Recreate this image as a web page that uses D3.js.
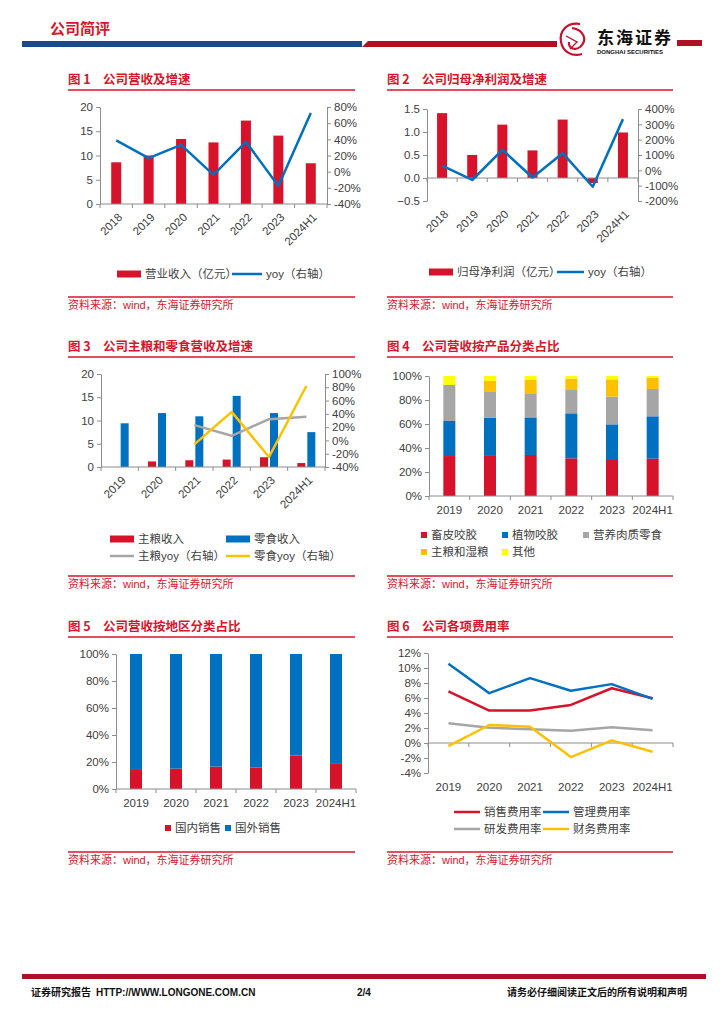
<!DOCTYPE html>
<html>
<head>
<meta charset="utf-8">
<script src="https://cdn.jsdelivr.net/npm/d3@7"></script>
<style>
  body { margin: 0; background: #fff; }
  svg { display: block; }
</style>
</head>
<body>
<svg id="page" width="724" height="1024"></svg>
<script>
// ---- data ----
const years7 = ['2018', '2019', '2020', '2021', '2022', '2023', '2024H1'];
const years6 = ['2019', '2020', '2021', '2022', '2023', '2024H1'];

const revenue = [8.6, 10.0, 13.4, 12.7, 17.2, 14.1, 8.4];        // 亿元
const revenueYoy = [38.6, 16.7, 33.2, -4.0, 37.0, -17.6, 72.6];  // %

const profit = [1.41, 0.50, 1.16, 0.60, 1.27, -0.11, 0.99];      // 亿元
const profitYoy = [31, -63, 134, -47, 112, -107, 334];           // %

const stapleRev = [0, 1.2, 1.45, 1.6, 2.1, 0.85];
const snackRev = [9.4, 11.6, 10.9, 15.3, 11.6, 7.5];
const stapleYoy = [null, null, 23, 7, 32, 35.5];
const snackYoy = [null, null, -6, 43, -25, 82];

const productNames = ['畜皮咬胶', '植物咬胶', '营养肉质零食', '主粮和湿粮', '其他'];
const hideChews = [33.3, 33.4, 34.2, 31.4, 30.0, 31.1];
const plantChews = [29.2, 31.9, 31.3, 37.5, 29.7, 35.3];
const meatSnacks = [30.0, 21.4, 19.5, 19.4, 23.1, 22.8];
const stapleWet = [0, 9.1, 12.0, 9.5, 14.4, 9.4];
const others = [7.5, 4.2, 3.0, 2.2, 2.8, 1.4];

const regionNames = ['国内销售', '国外销售'];
const domestic = [14.1, 15.1, 16.6, 15.8, 24.8, 18.6];
const overseas = [85.9, 84.9, 83.4, 84.2, 75.2, 81.4];

const expenseNames = ['销售费用率', '管理费用率', '研发费用率', '财务费用率'];
const salesRate = [6.87, 4.32, 4.32, 5.08, 7.3, 5.97];
const adminRate = [10.57, 6.64, 8.65, 6.96, 7.85, 5.88];
const rdRate = [2.62, 2.04, 1.82, 1.64, 2.09, 1.69];
const finRate = [-0.41, 2.4, 2.18, -1.88, 0.35, -1.17];

// ---- style ----
const RED = '#D7132B';
const RED_T = '#D9142B';
const BLUE = '#0070C0';
const GREY = '#A6A6A6';
const ORANGE = '#FFC000';
const YELLOW = '#FFFF00';
const CJK = '"Noto Sans CJK SC", sans-serif';
const NUM = '"Liberation Sans", "Noto Sans CJK SC", sans-serif';

const svg = d3.select('#page');

function styleAxis(g) {
    g.selectAll('path, line').attr('stroke', '#8c8c8c');
    g.selectAll('text').attr('fill', '#404040').attr('font-size', 11.5).attr('font-family', NUM);
}

function chartTitle(x0, x1, y, num, text) {
    svg.append('text').attr('x', x0).attr('y', y).attr('fill', RED_T)
        .attr('font-weight', 'bold').attr('font-size', 12.5).attr('font-family', CJK)
        .text('图 ' + num);
    svg.append('text').attr('x', x0 + 35).attr('y', y).attr('fill', RED_T)
        .attr('font-weight', 'bold').attr('font-size', 12.5).attr('font-family', CJK)
        .text(text);
    svg.append('line').attr('x1', x0).attr('x2', x1).attr('y1', y + 6).attr('y2', y + 6)
        .attr('stroke', RED_T).attr('stroke-width', 1.5);
}

function sourceNote(x0, x1, y) {
    svg.append('line').attr('x1', x0).attr('x2', x1).attr('y1', y).attr('y2', y)
        .attr('stroke', RED_T).attr('stroke-width', 1.5);
    svg.append('text').attr('x', x0).attr('y', y + 12).attr('fill', RED_T)
        .attr('font-size', 11).attr('font-family', NUM)
        .text('资料来源：wind，东海证券研究所');
}

// legend item: kind = 'rect' | 'line' | 'square'
function legendItem(x, y, kind, color, label, w) {
    if (kind === 'rect') {
        svg.append('rect').attr('x', x).attr('y', y - 3.5).attr('width', w).attr('height', 7).attr('fill', color);
    } else if (kind === 'line') {
        svg.append('line').attr('x1', x).attr('x2', x + w).attr('y1', y).attr('y2', y)
            .attr('stroke', color).attr('stroke-width', 2.5);
    } else {
        svg.append('rect').attr('x', x).attr('y', y - 3).attr('width', 6).attr('height', 6).attr('fill', color);
    }
    svg.append('text').attr('x', x + w + 4).attr('y', y + 4).attr('fill', '#404040')
        .attr('font-size', 11.5).attr('font-family', NUM).text(label);
}

// bars on left axis + yoy lines on right axis
function comboChart(o) {
    const g = svg.append('g');
    const x = d3.scaleBand().domain(o.cats).range([o.x0, o.x1]);
    const yL = d3.scaleLinear().domain(o.leftDomain).range([o.yBot, o.yTop]);
    const yR = d3.scaleLinear().domain(o.rightDomain).range([o.yBot, o.yTop]);
    const cx = c => x(c) + x.bandwidth() / 2;

    const nb = o.bars.length;
    o.bars.forEach((b, k) => {
        const off = (k - (nb - 1) / 2) * (o.barW + o.barGap);
        g.selectAll(null).data(b.values).join('rect')
            .attr('x', (d, i) => cx(o.cats[i]) + off - o.barW / 2)
            .attr('y', d => yL(Math.max(0, d)))
            .attr('width', o.barW)
            .attr('height', d => Math.abs(yL(d) - yL(0)))
            .attr('fill', b.color);
    });

    g.append('g').attr('transform', `translate(${o.x0},0)`)
        .call(d3.axisLeft(yL).tickValues(o.leftTicks).tickFormat(o.leftFmt).tickSize(4).tickSizeOuter(0))
        .call(styleAxis);
    g.append('g').attr('transform', `translate(${o.x1},0)`)
        .call(d3.axisRight(yR).tickValues(o.rightTicks).tickFormat(d => d + '%').tickSize(4).tickSizeOuter(0))
        .call(styleAxis);

    const y0 = yL(0);
    g.append('line').attr('x1', o.x0).attr('x2', o.x1).attr('y1', y0).attr('y2', y0).attr('stroke', '#8c8c8c');
    g.selectAll(null).data(d3.range(o.cats.length + 1)).join('line')
        .attr('x1', i => o.x0 + i * x.step()).attr('x2', i => o.x0 + i * x.step())
        .attr('y1', y0).attr('y2', y0 + 4).attr('stroke', '#8c8c8c');

    g.selectAll(null).data(o.cats).join('text')
        .attr('transform', d => `translate(${cx(d) + 4},${o.yBot + 11}) rotate(-45)`)
        .attr('text-anchor', 'end').attr('dy', '0.35em')
        .attr('fill', '#404040').attr('font-size', 11.5).attr('font-family', NUM)
        .text(d => d);

    o.lines.forEach(l => {
        const pts = l.values.map((v, i) => ({ c: o.cats[i], v: v }));
        const line = d3.line().defined(d => d.v != null).x(d => cx(d.c)).y(d => yR(d.v));
        g.append('path').attr('d', line(pts)).attr('fill', 'none')
            .attr('stroke', l.color).attr('stroke-width', 2.5).attr('stroke-linejoin', 'round');
    });
}

// 100% stacked columns
function stackChart(o) {
    const g = svg.append('g');
    const x = d3.scaleBand().domain(o.cats).range([o.x0, o.x1]);
    const y = d3.scaleLinear().domain([0, 100]).range([o.yBot, o.yTop]);
    const rows = o.cats.map((c, i) => {
        const r = { cat: c };
        o.keys.forEach((k, j) => { r[k] = o.series[j][i]; });
        return r;
    });
    const stacked = d3.stack().keys(o.keys)(rows);
    stacked.forEach((layer, j) => {
        g.selectAll(null).data(layer).join('rect')
            .attr('x', d => x(d.data.cat) + x.bandwidth() / 2 - o.barW / 2)
            .attr('y', d => y(d[1]))
            .attr('width', o.barW)
            .attr('height', d => y(d[0]) - y(d[1]))
            .attr('fill', o.colors[j]);
    });
    g.append('g').attr('transform', `translate(${o.x0},0)`)
        .call(d3.axisLeft(y).tickValues(d3.range(0, 101, 20)).tickFormat(d => d + '%').tickSize(4).tickSizeOuter(0))
        .call(styleAxis);
    g.append('line').attr('x1', o.x0).attr('x2', o.x1).attr('y1', o.yBot).attr('y2', o.yBot).attr('stroke', '#8c8c8c');
    g.selectAll(null).data(d3.range(o.cats.length + 1)).join('line')
        .attr('x1', i => o.x0 + i * x.step()).attr('x2', i => o.x0 + i * x.step())
        .attr('y1', o.yBot).attr('y2', o.yBot + 4).attr('stroke', '#8c8c8c');
    g.selectAll(null).data(o.cats).join('text')
        .attr('x', d => x(d) + x.bandwidth() / 2).attr('y', o.yBot + 18)
        .attr('text-anchor', 'middle').attr('fill', '#404040')
        .attr('font-size', 11.5).attr('font-family', NUM).text(d => d);
}

// ---- page header ----
svg.append('text').attr('x', 50).attr('y', 34).attr('fill', RED_T)
    .attr('font-weight', 'bold').attr('font-size', 15).attr('font-family', CJK).text('公司简评');
svg.append('rect').attr('x', 22).attr('y', 41).attr('width', 340).attr('height', 6).attr('fill', '#1B4A8A');
svg.append('path').attr('d', 'M362,47 L368,41 L557,41 L557,47 Z').attr('fill', '#B20E24');
svg.append('rect').attr('x', 677).attr('y', 40).attr('width', 25).attr('height', 6).attr('fill', '#B20E24');
// logo
svg.append('path').attr('d', 'M580,24 C566,22 559,32 561,42 C563,52 572,57 582,54 M572,28 C584,30 588,40 580,47 C575,51 568,48 569,42')
    .attr('fill', 'none').attr('stroke', '#C8102E').attr('stroke-width', 2.2);
svg.append('path').attr('d', 'M566,36 L577,42 L570,49').attr('fill', 'none').attr('stroke', '#C8102E').attr('stroke-width', 1.4);
svg.append('text').attr('x', 597).attr('y', 44).attr('fill', '#111')
    .attr('font-weight', 'bold').attr('font-size', 17).attr('letter-spacing', 2).attr('font-family', CJK).text('东海证券');
svg.append('text').attr('x', 597).attr('y', 54).attr('fill', '#111')
    .attr('font-weight', 'bold').attr('font-size', 6).attr('font-family', NUM).text('DONGHAI SECURITIES');

// ---- 图1 ----
chartTitle(68, 355, 84, 1, '公司营收及增速');
comboChart({
    cats: years7, x0: 100, x1: 327, yTop: 107, yBot: 204,
    leftDomain: [0, 20], leftTicks: [0, 5, 10, 15, 20], leftFmt: d3.format('d'),
    rightDomain: [-40, 80], rightTicks: [-40, -20, 0, 20, 40, 60, 80],
    barW: 10, barGap: 0,
    bars: [{ values: revenue, color: RED }],
    lines: [{ values: revenueYoy, color: BLUE }]
});
legendItem(117, 274, 'rect', RED, '营业收入（亿元）', 24);
legendItem(232, 274, 'line', BLUE, 'yoy（右轴）', 30);
sourceNote(68, 355, 297);

// ---- 图2 ----
chartTitle(387, 673, 84, 2, '公司归母净利润及增速');
comboChart({
    cats: years7, x0: 427, x1: 638, yTop: 109, yBot: 201,
    leftDomain: [-0.5, 1.5], leftTicks: [-0.5, 0, 0.5, 1, 1.5], leftFmt: d3.format('.1f'),
    rightDomain: [-200, 400], rightTicks: [-200, -100, 0, 100, 200, 300, 400],
    barW: 10, barGap: 0,
    bars: [{ values: profit, color: RED }],
    lines: [{ values: profitYoy, color: BLUE }]
});
legendItem(429, 272, 'rect', RED, '归母净利润（亿元）', 24);
legendItem(557, 272, 'line', BLUE, 'yoy（右轴）', 27);
sourceNote(387, 673, 297);

// ---- 图3 ----
chartTitle(68, 355, 351, 3, '公司主粮和零食营收及增速');
comboChart({
    cats: years6, x0: 101, x1: 325, yTop: 374, yBot: 467,
    leftDomain: [0, 20], leftTicks: [0, 5, 10, 15, 20], leftFmt: d3.format('d'),
    rightDomain: [-40, 100], rightTicks: [-40, -20, 0, 20, 40, 60, 80, 100],
    barW: 8, barGap: 2,
    bars: [{ values: stapleRev, color: RED }, { values: snackRev, color: BLUE }],
    lines: [{ values: stapleYoy, color: GREY }, { values: snackYoy, color: ORANGE }]
});
legendItem(110, 539, 'rect', RED, '主粮收入', 24);
legendItem(226, 539, 'rect', BLUE, '零食收入', 24);
legendItem(110, 556, 'line', GREY, '主粮yoy（右轴）', 24);
legendItem(226, 556, 'line', ORANGE, '零食yoy（右轴）', 24);
sourceNote(68, 355, 576);

// ---- 图4 ----
chartTitle(387, 673, 351, 4, '公司营收按产品分类占比');
stackChart({
    cats: years6, x0: 429, x1: 673, yTop: 376, yBot: 496, barW: 12,
    keys: productNames,
    series: [hideChews, plantChews, meatSnacks, stapleWet, others],
    colors: [RED, BLUE, GREY, ORANGE, YELLOW]
});
legendItem(421, 535, 'square', RED, productNames[0], 6);
legendItem(502, 535, 'square', BLUE, productNames[1], 6);
legendItem(583, 535, 'square', GREY, productNames[2], 6);
legendItem(421, 552, 'square', ORANGE, productNames[3], 6);
legendItem(502, 552, 'square', YELLOW, productNames[4], 6);
sourceNote(387, 673, 576);

// ---- 图5 ----
chartTitle(68, 355, 631, 5, '公司营收按地区分类占比');
stackChart({
    cats: years6, x0: 116, x1: 356, yTop: 654, yBot: 789, barW: 12,
    keys: regionNames,
    series: [domestic, overseas],
    colors: [RED, BLUE]
});
legendItem(165, 828, 'square', RED, regionNames[0], 6);
legendItem(225, 828, 'square', BLUE, regionNames[1], 6);
sourceNote(68, 355, 852);

// ---- 图6 ----
chartTitle(387, 673, 631, 6, '公司各项费用率');
(function () {
    const g = svg.append('g');
    const x = d3.scaleBand().domain(years6).range([428, 673]);
    const y = d3.scaleLinear().domain([-4, 12]).range([773, 653]);
    const cx = c => x(c) + x.bandwidth() / 2;
    g.append('g').attr('transform', 'translate(428,0)')
        .call(d3.axisLeft(y).tickValues(d3.range(-4, 13, 2)).tickFormat(d => d + '%').tickSize(4).tickSizeOuter(0))
        .call(styleAxis);
    g.append('line').attr('x1', 428).attr('x2', 673).attr('y1', y(0)).attr('y2', y(0)).attr('stroke', '#8c8c8c');
    g.selectAll(null).data(d3.range(years6.length + 1)).join('line')
        .attr('x1', i => 428 + i * x.step()).attr('x2', i => 428 + i * x.step())
        .attr('y1', y(0)).attr('y2', y(0) + 4).attr('stroke', '#8c8c8c');
    g.selectAll(null).data(years6).join('text')
        .attr('x', d => cx(d)).attr('y', 791).attr('text-anchor', 'middle')
        .attr('fill', '#404040').attr('font-size', 11.5).attr('font-family', NUM).text(d => d);
    const series = [
        { values: rdRate, color: GREY },
        { values: finRate, color: ORANGE },
        { values: salesRate, color: RED },
        { values: adminRate, color: BLUE }
    ];
    const line = d3.line().x((d, i) => cx(years6[i])).y(d => y(d));
    series.forEach(s => {
        g.append('path').attr('d', line(s.values)).attr('fill', 'none')
            .attr('stroke', s.color).attr('stroke-width', 2.5).attr('stroke-linejoin', 'round');
    });
})();
legendItem(454, 812, 'line', RED, expenseNames[0], 26);
legendItem(543, 812, 'line', BLUE, expenseNames[1], 26);
legendItem(454, 829, 'line', GREY, expenseNames[2], 26);
legendItem(543, 829, 'line', ORANGE, expenseNames[3], 26);
sourceNote(387, 673, 852);

// ---- footer ----
svg.append('rect').attr('x', 22).attr('y', 974).attr('width', 684).attr('height', 5).attr('fill', '#B20E24');
svg.append('text').attr('x', 31).attr('y', 996).attr('fill', '#111').attr('font-weight', 'bold')
    .attr('font-size', 10).attr('font-family', NUM).text('证券研究报告');
svg.append('text').attr('x', 96).attr('y', 996).attr('fill', '#111').attr('font-weight', 'bold')
    .attr('font-size', 10).attr('font-family', NUM).text('HTTP://WWW.LONGONE.COM.CN');
svg.append('text').attr('x', 357).attr('y', 996).attr('fill', '#111').attr('font-weight', 'bold')
    .attr('font-size', 10).attr('font-family', NUM).text('2/4');
svg.append('text').attr('x', 687).attr('y', 996).attr('text-anchor', 'end').attr('fill', '#111').attr('font-weight', 'bold')
    .attr('font-size', 10).attr('font-family', NUM).text('请务必仔细阅读正文后的所有说明和声明');
</script>
</body>
</html>
